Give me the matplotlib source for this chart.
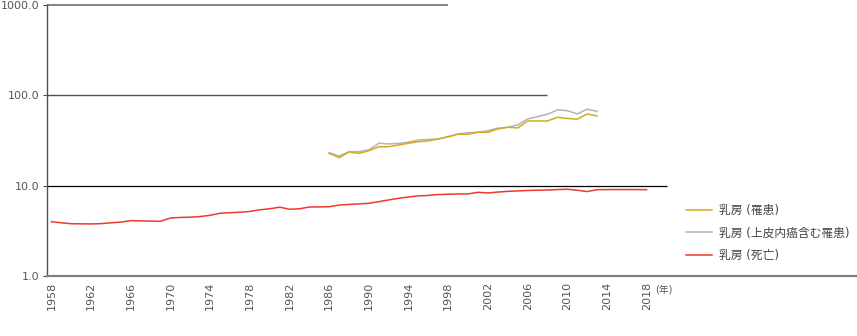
import matplotlib
matplotlib.use("Agg")
import matplotlib.pyplot as plt
import matplotlib.ticker as mticker

plt.rcParams["font.family"] = ["DejaVu Sans", "Noto Sans CJK JP"]

# --- data (rates per 100,000) ---
death_years = list(range(1958, 2019))
death = [
    3.99, 3.88, 3.79, 3.78, 3.77, 3.80, 3.88, 3.95, 4.10, 4.08,
    4.05, 4.03, 4.39, 4.45, 4.48, 4.55, 4.70, 4.95, 5.02, 5.08,
    5.18, 5.40, 5.55, 5.78, 5.48, 5.55, 5.80, 5.82, 5.85, 6.10,
    6.20, 6.28, 6.38, 6.65, 6.95, 7.25, 7.50, 7.70, 7.80, 7.98,
    8.03, 8.09, 8.10, 8.45, 8.30, 8.50, 8.65, 8.75, 8.85, 8.90,
    8.95, 9.05, 9.13, 8.90, 8.60, 9.03, 9.05, 9.05, 9.05, 9.05,
    9.03,
]

inc_years = list(range(1986, 2014))
incidence = [
    22.8, 20.4, 23.6, 22.8, 24.4, 27.0, 27.0, 28.2, 29.5, 30.7,
    31.3, 32.9, 34.8, 37.1, 37.1, 39.0, 39.0, 42.5, 44.3, 43.6,
    52.0, 52.0, 52.0, 57.2, 55.5, 54.4, 62.2, 59.1,
]
incidence_cis = [
    23.2, 21.3, 23.8, 23.8, 24.9, 29.5, 29.0, 29.3, 30.3, 32.1,
    32.5, 32.9, 34.9, 37.4, 38.6, 39.0, 40.7, 43.2, 44.3, 47.0,
    54.8, 58.1, 61.8, 68.9, 67.7, 62.2, 70.2, 66.5,
]

labels = ["乳房 (罹患)", "乳房 (上皮内癌含む罹患)", "乳房 (死亡)"]
xticks = list(range(1958, 2019, 4))
yticks = [1, 10, 100, 1000]
# right end (year) of each horizontal reference line
grid_ends = {1000: 1998, 100: 2008, 10: 2020}

# --- figure ---
fig = plt.figure(figsize=(8.57, 3.36), dpi=100)
ax = fig.add_axes([46.5 / 857, 60 / 336, 1 - 46.5 / 857, 271 / 336])

ax.set_yscale("log")
ax.set_xlim(1957.5, 2039.2)
ax.set_ylim(1, 1000)

grid_style = {
    1000: dict(color="#7a7a7a", lw=1.3),
    100: dict(color="#505050", lw=1.0),
    10: dict(color="black", lw=0.9),
}
for yv, xend in grid_ends.items():
    ax.hlines(yv, 1957.5, xend, zorder=1, clip_on=False, **grid_style[yv])

ax.plot(inc_years, incidence, color="#d6a91e", lw=1.1, label=labels[0], zorder=3)
ax.plot(inc_years, incidence_cis, color="#b4b4b4", lw=1.1, label=labels[1], zorder=2)
ax.plot(death_years, death, color="#ec3a2c", lw=1.1, label=labels[2], zorder=3)

for side in ["top", "right"]:
    ax.spines[side].set_visible(False)
ax.spines["bottom"].set_color("#808080")
ax.spines["bottom"].set_linewidth(1.6)
ax.spines["left"].set_color("#505050")
ax.spines["left"].set_linewidth(1.0)

ax.yaxis.set_major_locator(mticker.FixedLocator(yticks))
ax.yaxis.set_minor_locator(mticker.NullLocator())
ax.yaxis.set_major_formatter(mticker.FormatStrFormatter("%.1f"))
ax.set_xticks(xticks)
ax.set_xticklabels([str(y) for y in xticks], rotation=90)
ax.tick_params(axis="y", length=3, width=0.8, color="#505050", labelsize=8,
               labelcolor="#555555", pad=2)
ax.tick_params(axis="x", length=0, labelsize=8, labelcolor="#555555", pad=4)

fig.text(664 / 857, 1 - 290 / 336, "(年)", fontsize=7, color="#555555",
         ha="center", va="center")

leg = ax.legend(loc="upper left", bbox_to_anchor=(686 / 857, 1 - 204 / 336),
                bbox_transform=fig.transFigure, frameon=False, fontsize=8.5,
                handlelength=2.2, handletextpad=0.6, labelspacing=0.8,
                borderpad=0, borderaxespad=0)
for t in leg.get_texts():
    t.set_color("#444444")

fig.savefig("out.png", dpi=100)
